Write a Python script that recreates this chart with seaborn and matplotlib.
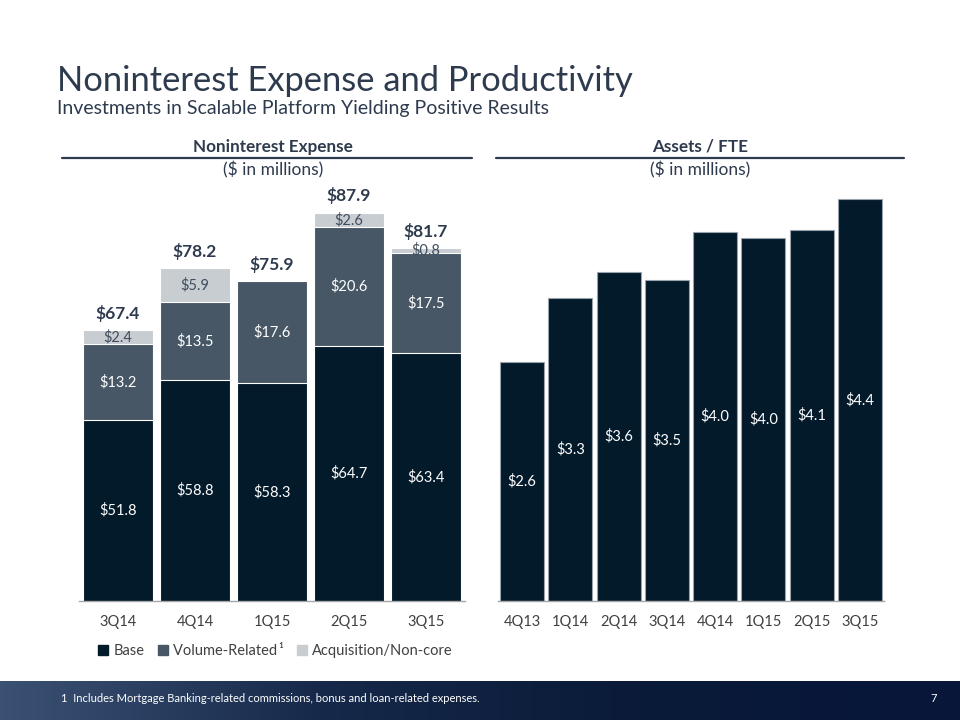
import numpy as np
import pandas as pd
import seaborn as sns
import matplotlib.pyplot as plt
from matplotlib.lines import Line2D
from matplotlib.patches import Patch
from matplotlib.colors import LinearSegmentedColormap

# Noninterest expense ($ millions)
quarters = ['3Q14', '4Q14', '1Q15', '2Q15', '3Q15']
base = [51.8, 58.8, 58.3, 64.7, 63.4]
volume = [13.2, 13.5, 17.6, 20.6, 17.5]
acquisition = [2.4, 5.9, 0.0, 2.6, 0.8]
totals = [67.4, 78.2, 75.9, 87.9, 81.7]

# Assets / FTE ($ millions)
fte_quarters = ['4Q13', '1Q14', '2Q14', '3Q14', '4Q14', '1Q15', '2Q15', '3Q15']
assets_fte = [2.62, 3.32, 3.60, 3.52, 4.04, 3.98, 4.06, 4.40]

C_BASE = '#031a2b'
C_VOL = '#475766'
C_ACQ = '#c8cdd2'
C_TEXT = '#2e3b4e'

sns.set_theme(style='white')
plt.rcParams['font.family'] = ['Lato', 'DejaVu Sans']

fig = plt.figure(figsize=(9.6, 7.2), dpi=100)

# titles
fig.text(0.059, 0.887, 'Noninterest Expense and Productivity', fontsize=24.8,
         color=C_TEXT, va='center', ha='left')
fig.text(0.059, 0.849, 'Investments in Scalable Platform Yielding Positive Results',
         fontsize=14, color=C_TEXT, va='center', ha='left')

# section headers
for xc, x0, x1, head in [(0.284, 0.065, 0.492, 'Noninterest Expense'),
                         (0.729, 0.517, 0.942, 'Assets / FTE')]:
    fig.text(xc, 0.796, head, fontsize=12.3, fontweight='bold', color=C_TEXT,
             ha='center', va='center')
    fig.add_artist(Line2D([x0, x1], [0.781, 0.781], color=C_TEXT, lw=1.6))
    fig.text(xc, 0.764, '($ in millions)', fontsize=12.5, color=C_TEXT,
             ha='center', va='center')

# ---- left: stacked expense bars
df = pd.DataFrame({'quarter': quarters, 'base': base, 'volume': volume,
                   'acq': acquisition})
df['bv'] = df['base'] + df['volume']
df['all'] = df['bv'] + df['acq']

ax1 = fig.add_axes([0.0828, 0.1653, 0.4011, 0.5986])
for col, c in [('all', C_ACQ), ('bv', C_VOL), ('base', C_BASE)]:
    sns.barplot(data=df, x='quarter', y=col, color=c, width=0.91,
                edgecolor='white', linewidth=0.8, saturation=1, ax=ax1)
ymin1 = 20.3
ax1.set_ylim(ymin1, 95.3)

for i, row in df.iterrows():
    ax1.text(i, (ymin1 + row['base']) / 2, f"${row['base']:.1f}",
             ha='center', va='center', color='white', fontsize=10.5)
    ax1.text(i, row['base'] + row['volume'] / 2, f"${row['volume']:.1f}",
             ha='center', va='center', color='white', fontsize=10.5)
    if row['acq'] > 0:
        ax1.text(i, row['bv'] + row['acq'] / 2, f"${row['acq']:.1f}",
                 ha='center', va='center', color='#3f4d5c', fontsize=10.5)
    ax1.text(i, row['all'] + 1.5, f"${totals[i]:.1f}", ha='center', va='bottom',
             color=C_TEXT, fontsize=12.5, fontweight='bold')

# ---- right: assets per FTE
df2 = pd.DataFrame({'quarter': fte_quarters, 'value': assets_fte})
ax2 = fig.add_axes([0.5188, 0.1653, 0.4021, 0.5986])
sns.barplot(data=df2, x='quarter', y='value', color=C_BASE, width=0.91,
            edgecolor='#9aa3ad', linewidth=0.8, saturation=1, ax=ax2)
ax2.set_ylim(0, 4.72)
for i, v in enumerate(assets_fte):
    ax2.text(i, v / 2, f"${v:.1f}", ha='center', va='center', color='white',
             fontsize=10.5)

for ax in (ax1, ax2):
    sns.despine(ax=ax, left=True)
    ax.spines['bottom'].set_color('#a6a6a6')
    ax.spines['bottom'].set_linewidth(1.0)
    ax.set_yticks([])
    ax.set_xlabel('')
    ax.set_ylabel('')
    ax.tick_params(axis='x', length=0, pad=10, labelsize=10.5, colors='#404040')
    ax.set_facecolor('none')

handles = [Patch(color=C_BASE), Patch(color=C_VOL), Patch(color=C_ACQ)]
fig.legend(handles, ['Base', 'Volume-Related\u2009\u00b9', 'Acquisition/Non-core'],
           loc='center', bbox_to_anchor=(0.287, 0.096), ncol=3, frameon=False,
           fontsize=10.5, handlelength=0.7, handleheight=0.7, handletextpad=0.35,
           columnspacing=0.9, labelcolor='#404040')

# footer band
fax = fig.add_axes([0, 0, 1, 39 / 720])
grad = np.linspace(0, 1, 256).reshape(1, -1)
cmap = LinearSegmentedColormap.from_list('band', ['#3b5174', '#16294a', '#0a1a38', '#07163a'])
fax.imshow(grad, aspect='auto', cmap=cmap, extent=[0, 1, 0, 1])
fax.axis('off')
fig.text(0.064, 0.030, '1  Includes Mortgage Banking-related commissions, bonus and loan-related expenses.',
         color='white', fontsize=8, va='center', ha='left')
fig.text(0.973, 0.030, '7', color='white', fontsize=8, va='center', ha='center')

fig.savefig('out.png', dpi=100)
